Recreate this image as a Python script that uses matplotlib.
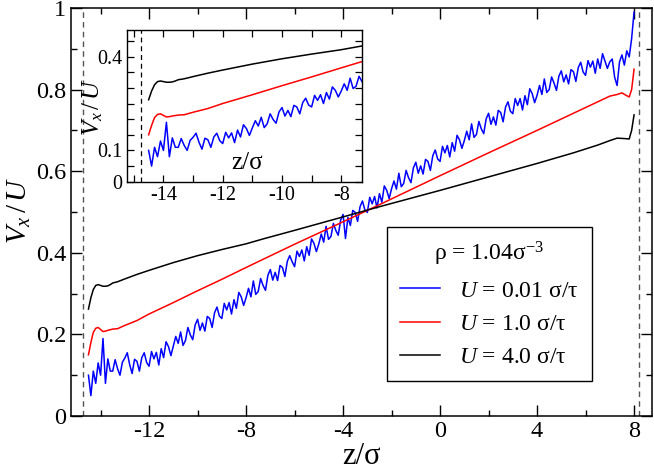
"""Velocity profiles V_x/U across the channel for three wall speeds."""

import matplotlib
matplotlib.use("Agg")
import matplotlib.pyplot as plt
import numpy as np
from matplotlib.ticker import MultipleLocator, FuncFormatter

# %% style
plt.rcParams["font.family"] = ["Liberation Serif", "DejaVu Serif"]
plt.rcParams["mathtext.fontset"] = "custom"
plt.rcParams["mathtext.rm"] = "Liberation Serif"
plt.rcParams["mathtext.it"] = "Liberation Serif:italic"
plt.rcParams["axes.unicode_minus"] = False

# %% data
wall_left = -14.72
wall_right = 8.22
wall_left_inset = -14.77

z_black = [-14.5, -14.4, -14.3, -14.2, -14.1, -14.0, -13.9, -13.8, -13.7, -13.6,
           -13.5, -13.3, -13.0, -12.5, -12.0, -11.0, -10.0, -9.0, -8.0, -7.3,
           -6.0, -4.0, -2.5, 0.0, 2.0, 4.0, 5.5, 6.5, 7.0, 7.3, 7.6, 7.8, 7.9, 8.0]
v_black = [0.262, 0.29, 0.31, 0.32, 0.322, 0.32, 0.318, 0.318, 0.319, 0.322,
           0.326, 0.329, 0.336, 0.347, 0.357, 0.376, 0.393, 0.408, 0.422, 0.434,
           0.455, 0.488, 0.513, 0.553, 0.586, 0.619, 0.645, 0.664, 0.675, 0.681,
           0.68, 0.679, 0.70, 0.738]

z_red = [-14.5, -14.4, -14.3, -14.2, -14.1, -14.0, -13.9, -13.8, -13.7, -13.5,
         -13.3, -13.0, -12.5, -12.0, -11.0, -10.0, -9.0, -8.0, -7.3, -6.0,
         -4.0, -2.5, 0.0, 2.0, 4.0, 5.5, 6.5, 7.0, 7.3, 7.5, 7.7, 7.8, 7.9, 8.0]
v_red = [0.15, 0.18, 0.205, 0.215, 0.217, 0.212, 0.207, 0.208, 0.21, 0.213,
         0.214, 0.222, 0.234, 0.25, 0.278, 0.307, 0.335, 0.364, 0.384, 0.421,
         0.476, 0.518, 0.589, 0.645, 0.70, 0.742, 0.77, 0.784, 0.788, 0.792,
         0.785, 0.782, 0.80, 0.85]

# U = 0.01: noisy profile sampled every 0.1 sigma from -14.5 to 8.0
v_blue = [
    0.100, 0.050, 0.110, 0.080, 0.130, 0.100, 0.190, 0.080, 0.140, 0.110,
    0.110, 0.138, 0.116, 0.100, 0.132, 0.142, 0.155, 0.126, 0.104, 0.139,
    0.134, 0.110, 0.143, 0.155, 0.131, 0.122, 0.158, 0.140, 0.156, 0.125,
    0.165, 0.143, 0.182, 0.170, 0.148, 0.172, 0.195, 0.178, 0.206, 0.173,
    0.185, 0.217, 0.199, 0.187, 0.223, 0.237, 0.210, 0.228, 0.208, 0.244,
    0.239, 0.217, 0.253, 0.267, 0.245, 0.239, 0.276, 0.260, 0.278, 0.250,
    0.285, 0.264, 0.303, 0.292, 0.271, 0.290, 0.313, 0.292, 0.331, 0.298,
    0.305, 0.337, 0.320, 0.308, 0.345, 0.359, 0.333, 0.352, 0.332, 0.369,
    0.364, 0.342, 0.379, 0.393, 0.378, 0.366, 0.404, 0.391, 0.407, 0.380,
    0.415, 0.394, 0.434, 0.423, 0.403, 0.422, 0.446, 0.426, 0.465, 0.433,
    0.440, 0.472, 0.455, 0.443, 0.480, 0.494, 0.435, 0.487, 0.467, 0.504,
    0.499, 0.477, 0.513, 0.527, 0.505, 0.499, 0.536, 0.520, 0.538, 0.510,
    0.545, 0.524, 0.564, 0.553, 0.533, 0.557, 0.576, 0.556, 0.595, 0.562,
    0.570, 0.602, 0.584, 0.572, 0.608, 0.622, 0.595, 0.613, 0.593, 0.629,
    0.624, 0.602, 0.638, 0.652, 0.630, 0.624, 0.661, 0.645, 0.663, 0.635,
    0.670, 0.649, 0.688, 0.677, 0.656, 0.675, 0.698, 0.677, 0.716, 0.683,
    0.690, 0.722, 0.704, 0.692, 0.728, 0.742, 0.715, 0.733, 0.713, 0.749,
    0.744, 0.721, 0.757, 0.770, 0.747, 0.741, 0.778, 0.761, 0.778, 0.750,
    0.785, 0.763, 0.802, 0.790, 0.768, 0.786, 0.810, 0.788, 0.826, 0.793,
    0.800, 0.831, 0.816, 0.798, 0.833, 0.846, 0.819, 0.836, 0.814, 0.849,
    0.844, 0.820, 0.854, 0.867, 0.843, 0.835, 0.871, 0.855, 0.870, 0.840,
    0.875, 0.852, 0.888, 0.870, 0.852, 0.868, 0.875, 0.830, 0.810, 0.868,
    0.885, 0.860, 0.895, 0.880, 0.925, 0.990,
]
z_blue = np.linspace(-14.5, 8.0, len(v_blue))

series = [
    (z_blue, v_blue, "#0000ff", r"$U$ = 0.01 σ/τ"),
    (z_red, v_red, "#ff0000", r"$U$ = 1.0 σ/τ"),
    (z_black, v_black, "black", r"$U$ = 4.0 σ/τ"),
]

# %% main plot
W, H = 654, 472
fig = plt.figure(figsize=(W / 100, H / 100), dpi=100)
ax = fig.add_axes([71 / W, 1 - 416 / H, 581 / W, 408 / H])

for z, v, c, lab in series:
    ax.plot(z, v, color=c, lw=1.1, label=lab)
for zw in (wall_left, wall_right):
    ax.axvline(zw, color="#555555", ls=(0, (4, 3)), lw=1.0)

ax.set_xlim(-15.22, 8.74)
ax.set_ylim(0, 1)
ax.xaxis.set_major_locator(MultipleLocator(4))
ax.xaxis.set_minor_locator(MultipleLocator(2))
ax.yaxis.set_major_locator(MultipleLocator(0.2))
ax.yaxis.set_minor_locator(MultipleLocator(0.1))
ax.yaxis.set_major_formatter(FuncFormatter(lambda v, p: f"{v:g}"))
ax.tick_params(which="both", direction="in", top=True, right=True,
               labelsize=17.5, width=1.0)
ax.tick_params(which="major", length=8)
ax.tick_params(which="minor", length=4)
for s in ax.spines.values():
    s.set_linewidth(1.1)

ax.set_xlabel("z/σ", fontsize=22, labelpad=0)
ax.set_ylabel(r"$V_x\,/\,U$", fontsize=21)
ax.yaxis.set_label_coords(-0.066, 0.505)

leg = ax.legend(title=r"ρ = 1.04σ$^{-3}$", loc="upper left",
                bbox_to_anchor=(387 / W, 1 - 227 / H),
                bbox_transform=fig.transFigure, borderaxespad=0,
                fontsize=17, title_fontsize=17, handlelength=1.7,
                handletextpad=0.8, labelspacing=0.5, borderpad=0.55,
                fancybox=False, framealpha=1, edgecolor="black")
leg.get_frame().set_linewidth(1.0)

# %% inset
ax_in = fig.add_axes([126.7 / W, 1 - 181.7 / H, 235.3 / W, 151.7 / H])
for z, v, c, lab in series:
    ax_in.plot(z, v, color=c, lw=1.1)
ax_in.axvline(wall_left_inset, color="black", ls=(0, (4, 3)), lw=0.9)
ax_in.set_xlim(-15.24, -7.3)
ax_in.set_ylim(0, 0.485)
ax_in.xaxis.set_major_locator(MultipleLocator(2))
ax_in.xaxis.set_minor_locator(MultipleLocator(1))
ax_in.yaxis.set_major_locator(MultipleLocator(0.1))
ax_in.yaxis.set_minor_locator(MultipleLocator(0.05))
ax_in.yaxis.set_major_formatter(
    FuncFormatter(lambda v, p: f"{v:g}" if round(v, 2) in (0.0, 0.1, 0.4) else ""))
ax_in.tick_params(which="both", direction="in", top=True, right=True,
                  labelsize=14.5, width=0.9, pad=3)
ax_in.tick_params(which="major", length=5)
ax_in.tick_params(which="minor", length=5)
for s in ax_in.spines.values():
    s.set_linewidth(1.0)
ax_in.set_ylabel(r"$V_x\,/\,U$", fontsize=18)
ax_in.yaxis.set_label_coords(-0.092, 0.494)
ax_in.text(0.511, 0.12, "z/σ", transform=ax_in.transAxes,
           ha="center", va="center", fontsize=18)

fig.savefig("out.png", dpi=100)
